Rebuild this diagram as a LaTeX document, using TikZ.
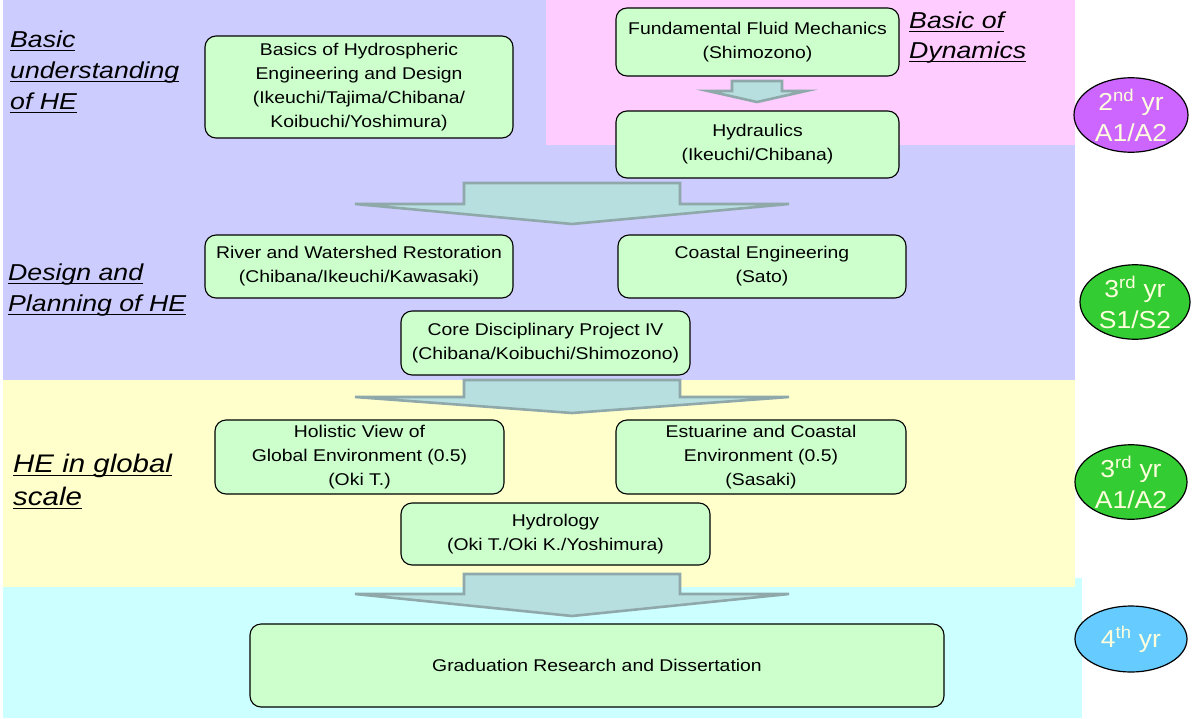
\documentclass[tikz,border=0pt]{standalone}
\usepackage{fontspec}
\setmainfont{Liberation Sans}
\newfontfamily\boxfont{Liberation Sans}[FakeStretch=1.14]
\newfontfamily\labfont{Liberation Sans}[FakeStretch=1.16]
\newfontfamily\yrfont{Liberation Sans}[FakeStretch=1.08]
\usetikzlibrary{shapes.geometric}
\definecolor{lav}{HTML}{CCCCFF}
\definecolor{pinkbg}{HTML}{FFCCFF}
\definecolor{yelbg}{HTML}{FFFFCC}
\definecolor{cyanbg}{HTML}{CCFFFF}
\definecolor{boxfill}{HTML}{CCFFCC}
\definecolor{arrfill}{HTML}{B8DFE0}
\definecolor{arrline}{HTML}{8FA8AA}
\definecolor{purp}{HTML}{CC66FF}
\definecolor{grn}{HTML}{33CC33}
\definecolor{blu}{HTML}{66CCFF}
\definecolor{yrtext}{HTML}{FFFFDD}
\newcommand\ulin[1]{\setbox0\hbox{#1}\rlap{\rule[-4pt]{\wd0}{1.4pt}}\box0}
\newcommand\blockarrow[6]{%
  \draw[arrst] (#1-#3,#2) -- (#1+#3,#2) -- (#1+#3,#5) -- (#1+#4,#5) -- (#1,#6)
    -- (#1-#4,#5) -- (#1-#3,#5) -- cycle;}
\begin{document}
\begin{tikzpicture}[x=1pt,y=-1pt,
  course/.style={draw=black,line width=1.1pt,fill=boxfill,rounded corners=11pt,
    align=center,inner sep=0pt,font=\boxfont\fontsize{17}{24}\selectfont},
  arrst/.style={draw=arrline,fill=arrfill,line width=2.6pt,line join=miter},
  sidelab/.style={anchor=base west,align=left,inner sep=0pt,
    font=\labfont\itshape\fontsize{23}{31}\selectfont},
  yr/.style={ellipse,draw=black,line width=1.2pt,inner sep=0pt,align=center,
    text=yrtext,font=\yrfont\fontsize{24.5}{31}\selectfont}]
\useasboundingbox (0,0) rectangle (1192,718);
\fill[white] (0,0) rectangle (1192,718);
% backgrounds
\fill[cyanbg] (3,578) rectangle (1082,718);
\fill[lav] (3,0) rectangle (1075,380);
\fill[pinkbg] (546,0) rectangle (1075,145);
\fill[yelbg] (3,380) rectangle (1075,587);
% block arrows
\blockarrow{757}{81}{25}{49}{91}{102}
\blockarrow{572}{183}{108}{217}{204}{224}
\blockarrow{572}{380}{108}{217}{397}{413}
\blockarrow{572}{574}{108}{217}{594}{616}
% course boxes
\node[course,minimum width=308pt,minimum height=102pt] (basics) at (359,87)
  {Basics of Hydrospheric\\Engineering and Design\\(Ikeuchi/Tajima/Chibana/\\Koibuchi/Yoshimura)};
\node[course,minimum width=283pt,minimum height=68pt] (fund) at (757.5,42)
  {Fundamental Fluid Mechanics\\(Shimozono)};
\node[course,minimum width=283pt,minimum height=67pt] (hydr) at (757.5,144.5)
  {Hydraulics\\(Ikeuchi/Chibana)};
\node[course,minimum width=308pt,minimum height=63pt] (river) at (359,266.5)
  {River and Watershed Restoration\\(Chibana/Ikeuchi/Kawasaki)};
\node[course,minimum width=288pt,minimum height=63pt] (coastal) at (762,266.5)
  {Coastal Engineering\\(Sato)};
\node[course,minimum width=289pt,minimum height=64pt] (core) at (545.5,343)
  {Core Disciplinary Project IV\\(Chibana/Koibuchi/Shimozono)};
\node[course,minimum width=289pt,minimum height=74pt] (holistic) at (359.5,457)
  {Holistic View of\\Global Environment (0.5)\\(Oki T.)};
\node[course,minimum width=290pt,minimum height=74pt] (estuarine) at (761,457)
  {Estuarine and Coastal\\Environment (0.5)\\(Sasaki)};
\node[course,minimum width=309pt,minimum height=62pt] (hydrology) at (555.5,534)
  {Hydrology\\(Oki T./Oki K./Yoshimura)};
\node[course,minimum width=694pt,minimum height=83pt] (grad) at (597,665.5)
  {Graduation Research and Dissertation};
% side labels (anchor = baseline of last line)
\node[sidelab] (lab1) at (10,109) {\ulin{Basic}\\\ulin{understanding}\\\ulin{of HE}};
\node[sidelab] (lab2) at (8,311) {\ulin{Design and}\\\ulin{Planning of HE}};
\node[sidelab,font=\labfont\itshape\fontsize{25.4}{33}\selectfont] (lab3) at (13,505)
  {\ulin{HE in global}\\\ulin{scale}};
\node[sidelab,font=\labfont\itshape\fontsize{23}{30}\selectfont] (lab4) at (909,58)
  {\ulin{Basic of}\\\ulin{Dynamics}};
% year ellipses
\node[yr,fill=purp,minimum width=114pt,minimum height=64pt] (y2) at (1131,115)
  {2\textsuperscript{nd} yr\\A1/A2};
\node[yr,fill=grn,minimum width=110pt,minimum height=66pt] (y3s) at (1135,302)
  {3\textsuperscript{rd} yr\\S1/S2};
\node[yr,fill=grn,minimum width=112pt,minimum height=64pt] (y3a) at (1131,482)
  {3\textsuperscript{rd} yr\\A1/A2};
\node[yr,fill=blu,minimum width=112pt,minimum height=66pt] (y4) at (1131,639)
  {4\textsuperscript{th} yr};
\end{tikzpicture}
\end{document}
